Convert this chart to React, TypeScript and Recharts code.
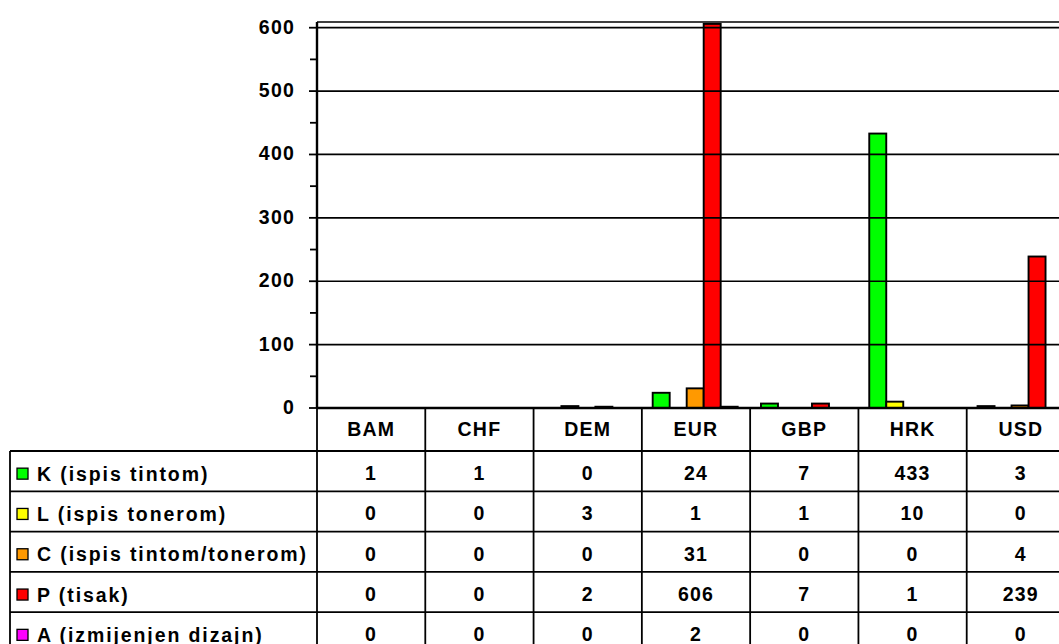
import React from 'react';
import { BarChart, Bar, XAxis, YAxis, ReferenceLine } from 'recharts';

const categories = ['BAM', 'CHF', 'DEM', 'EUR', 'GBP', 'HRK', 'USD'];
const seriesK = [1, 1, 0, 24, 7, 433, 3];
const seriesL = [0, 0, 3, 1, 1, 10, 0];
const seriesC = [0, 0, 0, 31, 0, 0, 4];
const seriesP = [0, 0, 2, 606, 7, 1, 239];
const seriesA = [0, 0, 0, 2, 0, 0, 0];
const seriesNames = [
  'K (ispis tintom)',
  'L (ispis tonerom)',
  'C (ispis tintom/tonerom)',
  'P (tisak)',
  'A (izmijenjen dizajn)',
];
const seriesKeys = ['K', 'L', 'C', 'P', 'A'];
const seriesColors = ['#00FF00', '#FFFF00', '#FF9900', '#FF0000', '#FF00FF'];
const seriesValues = [seriesK, seriesL, seriesC, seriesP, seriesA];
const yTicks = [0, 50, 100, 150, 200, 250, 300, 350, 400, 450, 500, 550, 600];
const gridValues = [100, 200, 300, 400, 500, 600];
const Y_MAX = 609;

const data = categories.map((cat, i) => {
  const row: any = { cat };
  seriesKeys.forEach((k, s) => {
    row[k] = seriesValues[s][i];
  });
  return row;
});

// layout
const CHART_W = 1090;
const CHART_H = 644;
const M_TOP = 22;
const M_LEFT = 257;
const Y_AXIS_W = 60;
const PLOT_LEFT = M_LEFT + Y_AXIS_W;
const M_RIGHT = 15;
const PLOT_W = CHART_W - PLOT_LEFT - M_RIGHT;
const BAND = PLOT_W / categories.length;
const X_AXIS_H = 40;
const AXIS_Y = 408;
const M_BOTTOM = CHART_H - AXIS_Y - X_AXIS_H;
const TABLE_LEFT = 10;
const HEADER_BOTTOM = 451;
const ROW_H = 40.3;

const FONT = '"Liberation Sans", Arial, sans-serif';
const textStyle: React.CSSProperties = { letterSpacing: '1.2px' };

const SkipTinyBar = (props: any) => {
  const { x, y, width, height, fill } = props;
  if (height == null || height < 1) return null;
  return <rect x={x} y={y} width={width} height={height} fill={fill} stroke="#000" strokeWidth={1.9} />;
};

const YTick = (props: any) => {
  const { y, payload } = props;
  const v = payload.value;
  const major = v % 100 === 0;
  return (
    <g>
      <line x1={PLOT_LEFT - (major ? 8 : 7)} x2={PLOT_LEFT} y1={y} y2={y} stroke="#000" strokeWidth={1.8} />
      {major && (
        <text x={PLOT_LEFT - 22} y={y + 6} textAnchor="end" fontFamily={FONT} fontWeight="bold" fontSize={19.5} fill="#000" style={textStyle}>
          {v}
        </text>
      )}
    </g>
  );
};

const TableTick = (props: any) => {
  const { x, payload, index } = props;
  const x0 = x - BAND / 2;
  const rows = seriesValues.map((vals, s) => ({ v: vals[index], s }));
  return (
    <g>
      <line x1={x0} x2={x0} y1={AXIS_Y} y2={CHART_H + 20} stroke="#000" strokeWidth={1.8} />
      <text x={x} y={429 + 7} textAnchor="middle" fontFamily={FONT} fontWeight="bold" fontSize={19.5} fill="#000" style={textStyle}>
        {payload.value}
      </text>
      {rows.map(({ v, s }) => (
        <text key={s} x={x} y={HEADER_BOTTOM + ROW_H * s + ROW_H / 2 + 9} textAnchor="middle" fontFamily={FONT} fontWeight="bold" fontSize={19.5} fill="#000" style={textStyle}>
          {v}
        </text>
      ))}
      {index === 0 && (
        <g>
          <line x1={TABLE_LEFT} x2={TABLE_LEFT} y1={HEADER_BOTTOM} y2={CHART_H + 20} stroke="#000" strokeWidth={1.8} />
          {[0, 1, 2, 3, 4, 5].map((r) => (
            <line key={r} x1={TABLE_LEFT} x2={CHART_W} y1={HEADER_BOTTOM + ROW_H * r} y2={HEADER_BOTTOM + ROW_H * r} stroke="#000" strokeWidth={1.8} />
          ))}
          {seriesNames.map((name, s) => {
            const cy = HEADER_BOTTOM + ROW_H * s + ROW_H / 2 + 3;
            return (
              <g key={name}>
                <rect x={17} y={cy - 6} width={11} height={11} fill={seriesColors[s]} stroke="#000" strokeWidth={1.3} />
                <text x={37} y={cy + 6.5} fontFamily={FONT} fontWeight="bold" fontSize={19.5} fill="#000" style={{ letterSpacing: '1.9px' }}>
                  {name}
                </text>
              </g>
            );
          })}
        </g>
      )}
    </g>
  );
};

export default function App() {
  return (
    <div style={{ position: 'absolute', left: 0, top: 0, width: 1059, height: 644, overflow: 'hidden', background: '#fff' }}>
      <BarChart
        width={CHART_W}
        height={CHART_H}
        data={data}
        margin={{ top: M_TOP, right: M_RIGHT, left: M_LEFT, bottom: M_BOTTOM }}
        barCategoryGap="10%"
        barGap={0}
      >
        <XAxis
          dataKey="cat"
          height={X_AXIS_H}
          axisLine={{ stroke: '#000', strokeWidth: 2.4 }}
          tickLine={false}
          interval={0}
          tick={<TableTick />}
        />
        <YAxis
          width={Y_AXIS_W}
          domain={[0, Y_MAX]}
          ticks={yTicks}
          interval={0}
          axisLine={{ stroke: '#000', strokeWidth: 2.4 }}
          tickLine={false}
          tick={<YTick />}
        />
        {gridValues.map((v) => (
          <ReferenceLine key={v} y={v} stroke="#000" strokeWidth={1.7} ifOverflow="extendDomain" />
        ))}
        <ReferenceLine y={Y_MAX} stroke="#000" strokeWidth={1.7} />
        {seriesKeys.map((k, s) => (
          <Bar key={k} dataKey={k} fill={seriesColors[s]} shape={<SkipTinyBar />} isAnimationActive={false} />
        ))}
      </BarChart>
    </div>
  );
}
